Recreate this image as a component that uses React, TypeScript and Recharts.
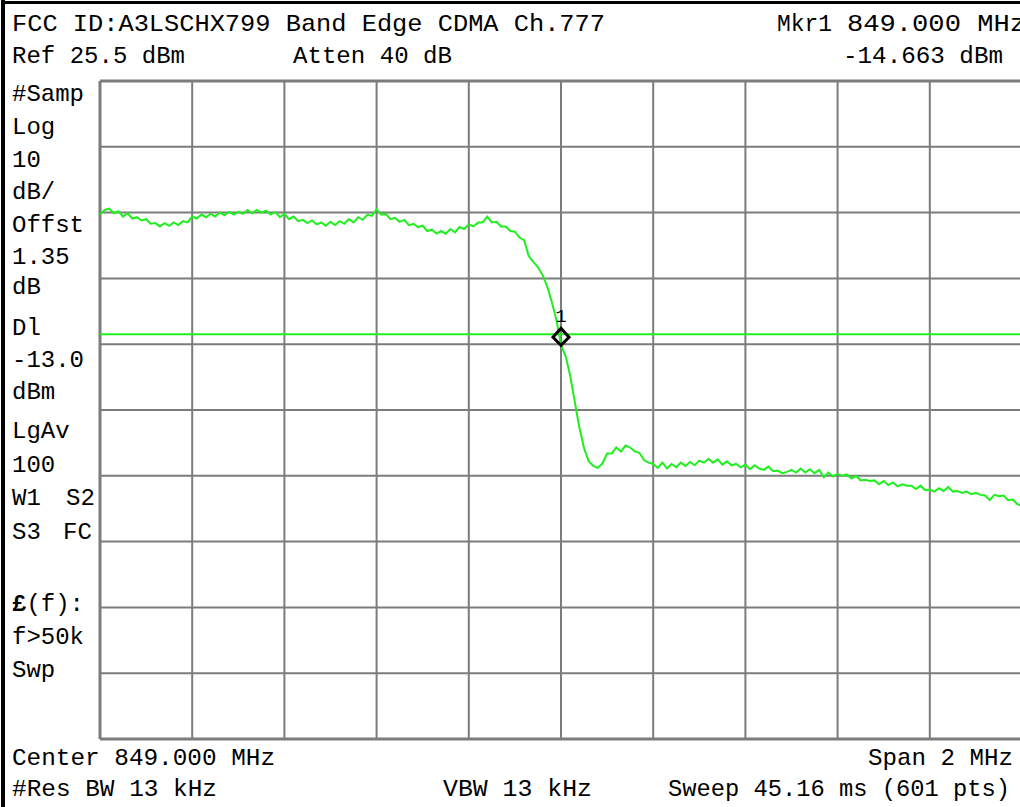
import { LineChart, Line, XAxis, YAxis, CartesianGrid, ReferenceLine, ReferenceDot } from 'recharts';

// sweep: 848.000 .. 850.000 MHz, one reading every 10 kHz
const START_MHZ = 848;
const STEP_MHZ = 0.01;

const traceLevels = [
  5.2, 5.9, 6.1, 5.4, 5.7, 4.9, 5.4, 4.6, 4.8, 4.3,
  4.5, 3.8, 3.9, 3.4, 3.9, 3.5, 4.0, 3.6, 4.2, 4.0,
  4.9, 4.6, 5.2, 4.8, 5.3, 4.9, 5.5, 5.1, 5.6, 5.2,
  5.6, 5.3, 5.9, 5.4, 5.9, 5.5, 5.8, 5.2, 5.6, 4.8,
  5.3, 4.5, 4.9, 4.2, 4.4, 3.9, 4.3, 3.7, 4.0, 3.5,
  4.1, 3.6, 4.2, 3.8, 4.5, 4.0, 4.8, 4.4, 5.2, 5.0,
  6.0, 5.2, 5.3, 4.5, 4.7, 4.1, 4.4, 3.6, 3.8, 3.3,
  3.5, 2.7, 2.9, 2.3, 2.7, 2.3, 3.0, 2.5, 3.3, 3.0,
  3.7, 3.4, 4.0, 4.0, 4.9, 4.0, 4.1, 3.4, 3.4, 2.7,
  2.6, 1.7, 1.3, -1.1, -2.0, -2.8, -4.0, -5.7, -8.1, -10.8,
  -14.663, -16.3, -19.3, -23.3, -27.2, -30.3, -32.3, -33.0, -33.3, -32.6,
  -31.1, -31.1, -30.2, -30.8, -29.9, -30.2, -30.8, -31.0, -32.1, -32.5,
  -32.7, -33.3, -32.5, -33.4, -32.7, -33.2, -32.5, -33.0, -32.4, -32.9,
  -32.2, -32.5, -31.9, -32.5, -32.0, -32.8, -32.3, -32.9, -32.7, -33.2,
  -32.8, -33.5, -32.9, -33.4, -33.6, -33.1, -33.8, -33.7, -34.1, -33.9,
  -33.6, -34.0, -33.4, -34.0, -33.5, -34.1, -33.6, -34.7, -34.0, -34.6,
  -34.2, -34.5, -34.3, -34.9, -34.5, -35.2, -35.1, -35.3, -35.2, -35.8,
  -35.3, -35.9, -35.5, -36.1, -35.8, -36.0, -36.0, -36.5, -36.0, -36.7,
  -36.6, -36.9, -36.4, -36.8, -36.2, -36.9, -36.8, -37.1, -36.9, -37.3,
  -37.1, -37.4, -37.5, -38.2, -37.4, -37.6, -37.5, -38.2, -38.1, -38.8,
  -39.1,
];

const freqTicks = [848.0, 848.2, 848.4, 848.6, 848.8, 849.0, 849.2, 849.4, 849.6, 849.8, 850.0];
const levelTicks = [25.5, 15.5, 5.5, -4.5, -14.5, -24.5, -34.5, -44.5, -54.5, -64.5, -74.5];

const DISPLAY_LINE = -13.0;
const MARKER_FREQ = 849.0;
const MARKER_LEVEL = -14.663;

const headerLines = [
  { text: 'FCC ID:A3LSCHX799 Band Edge CDMA Ch.777', x: 12, y: 31, len: 593 },
  { text: 'Mkr1', x: 777, y: 31, len: 55 },
  { text: '849.000 MHz', x: 847, y: 31, len: 179 },
  { text: 'Ref 25.5 dBm', x: 12, y: 63, len: 173 },
  { text: 'Atten 40 dB', x: 293, y: 63, len: 159 },
  { text: '-14.663 dBm', x: 843, y: 63, len: 160 },
  { text: 'Center 849.000 MHz', x: 12, y: 765, len: 263 },
  { text: 'Span 2 MHz', x: 868, y: 765, len: 145 },
  { text: '#Res BW 13 kHz', x: 12, y: 796, len: 205 },
  { text: 'VBW 13 kHz', x: 443, y: 796, len: 149 },
  { text: 'Sweep 45.16 ms (601 pts)', x: 668, y: 796, len: 342 },
];

const sideLabels = [
  { text: '#Samp', x: 12, y: 101 },
  { text: 'Log', x: 12, y: 134 },
  { text: '10', x: 12, y: 167 },
  { text: 'dB/', x: 12, y: 199 },
  { text: 'Offst', x: 12, y: 232 },
  { text: '1.35', x: 12, y: 264 },
  { text: 'dB', x: 12, y: 294 },
  { text: 'Dl', x: 12, y: 335 },
  { text: '-13.0', x: 12, y: 367 },
  { text: 'dBm', x: 12, y: 399 },
  { text: 'LgAv', x: 12, y: 438 },
  { text: '100', x: 12, y: 472 },
  { text: 'W1', x: 12, y: 505 },
  { text: 'S2', x: 66, y: 505 },
  { text: 'S3', x: 12, y: 539 },
  { text: 'FC', x: 63, y: 539 },
  { text: 'f>50k', x: 12, y: 644 },
  { text: 'Swp', x: 12, y: 677 },
];

const data = traceLevels.map((level, i) => ({
  f: +(START_MHZ + i * STEP_MHZ).toFixed(3),
  level,
}));

const FONT = '"Liberation Mono", "DejaVu Sans Mono", monospace';
const FONT_SIZE = 24;
const GRID = '#7c7c7c';
const TRACE = '#1ef01e';

function MarkerShape(props: any) {
  const { cx, cy } = props;
  if (cx == null || cy == null) return null;
  return (
    <g>
      <path
        d={`M${cx},${cy - 17} L${cx + 8},${cy - 8} L${cx},${cy} L${cx - 8},${cy - 8} Z`}
        fill="none"
        stroke="#000"
        strokeWidth={3}
      />
      <text x={cx} y={cy - 23} textAnchor="middle" fontFamily={FONT} fontSize={19} fill="#000">
        1
      </text>
    </g>
  );
}

export default function App() {
  return (
    <div style={{ position: 'relative', width: 1020, height: 807, background: '#fff', overflow: 'hidden' }}>
      <style>{'body{margin:0}'}</style>
      <div style={{ position: 'absolute', left: 97, top: 78 }}>
        <LineChart width={928} height={664} data={data} margin={{ top: 3, right: 3, bottom: 3, left: 3 }}>
          <XAxis dataKey="f" type="number" domain={[848, 850]} ticks={freqTicks} allowDataOverflow hide />
          <YAxis type="number" domain={[-74.5, 25.5]} ticks={levelTicks} allowDataOverflow hide />
          <CartesianGrid stroke={GRID} strokeWidth={2} />
          <ReferenceLine y={25.5} stroke={GRID} strokeWidth={3} />
          <ReferenceLine y={-74.5} stroke={GRID} strokeWidth={3} />
          <ReferenceLine x={848} stroke={GRID} strokeWidth={3} />
          <ReferenceLine y={DISPLAY_LINE} stroke={TRACE} strokeWidth={2} />
          <Line
            dataKey="level"
            type="linear"
            stroke={TRACE}
            strokeWidth={2}
            dot={false}
            isAnimationActive={false}
          />
          <ReferenceDot x={MARKER_FREQ} y={MARKER_LEVEL} shape={MarkerShape} />
        </LineChart>
      </div>
      <svg
        width={1020}
        height={807}
        style={{ position: 'absolute', left: 0, top: 0, pointerEvents: 'none' }}
      >
        <rect x={1} y={0} width={4} height={807} fill="#000" />
        <rect x={1} y={1} width={1019} height={3} fill="#000" />
        {headerLines.map((t) => (
          <text
            key={t.text}
            x={t.x}
            y={t.y}
            textLength={t.len}
            lengthAdjust="spacingAndGlyphs"
            fontFamily={FONT}
            fontSize={FONT_SIZE}
            fill="#000"
          >
            {t.text}
          </text>
        ))}
        {sideLabels.map((t) => (
          <text key={t.text + t.y} x={t.x} y={t.y} fontFamily={FONT} fontSize={FONT_SIZE} fill="#000">
            {t.text}
          </text>
        ))}
        <text x={12} y={611} fontFamily={FONT} fontSize={FONT_SIZE} fill="#000">
          <tspan fontWeight="bold">£</tspan>(f):
        </text>
      </svg>
    </div>
  );
}
